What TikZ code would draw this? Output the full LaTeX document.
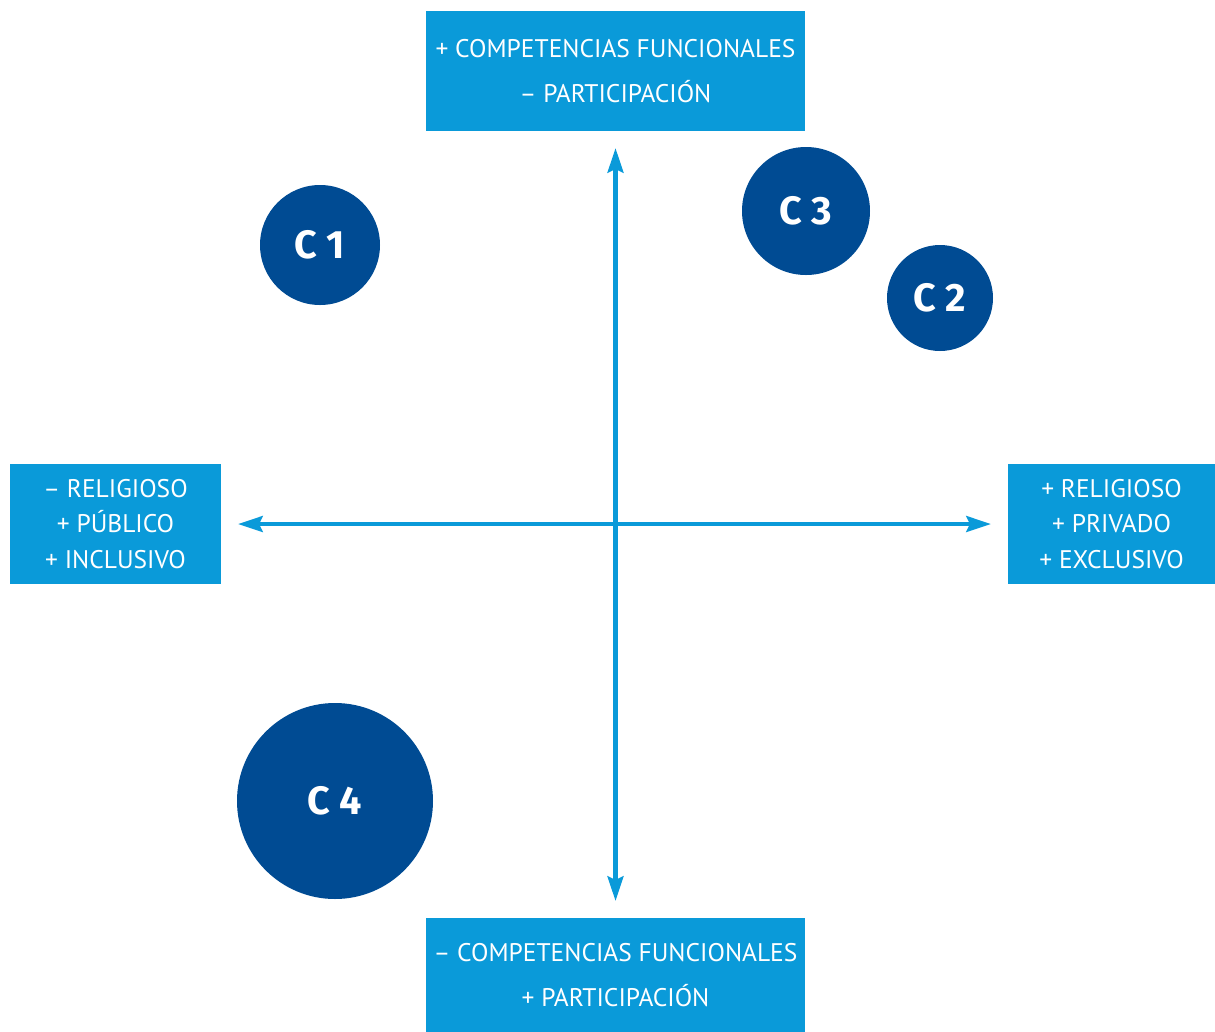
\documentclass[tikz,border=0pt]{standalone}
\usepackage{fontspec}
\setmainfont{PT Sans}
\newfontfamily\circfont{Fira Sans}
\usepackage{tikz}
\usetikzlibrary{arrows.meta,positioning}
\definecolor{axisblue}{HTML}{0A9AD9}
\definecolor{clusterblue}{HTML}{004B93}
\tikzset{
  polebox/.style={fill=axisblue, text=white, align=center, inner sep=0pt,
    font=\fontsize{14.5}{20}\selectfont},
  cluster/.style={circle, fill=clusterblue, text=white, inner sep=0pt,
    font=\circfont\bfseries\fontsize{22.5}{26}\selectfont},
  axisline/.style={draw=axisblue, line width=2.3pt,
    {Stealth[length=14pt,width=9pt,inset=2pt]}-{Stealth[length=14pt,width=9pt,inset=2pt]},
    shorten <=9.5pt, shorten >=9.5pt}
}

\begin{document}
\begin{tikzpicture}[x=0.02cm, y=-0.02cm]
          \useasboundingbox (0, 0) rectangle (1215, 1032);

          % extremos de los ejes
          \node[polebox, minimum width=379*0.02cm, minimum height=120*0.02cm] (top) at (615.5, 71)
            {+ COMPETENCIAS FUNCIONALES\\[6pt] -- PARTICIPACIÓN};
          \node[polebox, minimum width=379*0.02cm, minimum height=114*0.02cm] (bottom) at (615.5, 975)
            {-- COMPETENCIAS FUNCIONALES\\[6pt] + PARTICIPACIÓN};
          \node[polebox, minimum width=211*0.02cm, minimum height=120*0.02cm] (left) at (115.5, 524)
            {-- RELIGIOSO\\ + PÚBLICO\\ + INCLUSIVO};
          \node[polebox, minimum width=207*0.02cm, minimum height=120*0.02cm] (right) at (1111.5, 524)
            {+ RELIGIOSO\\ + PRIVADO\\ + EXCLUSIVO};

          \draw[axisline] (top.south) -- (bottom.north);
          \draw[axisline] (left.east) -- (right.west);

          % grupos
          \node[cluster, minimum size=120*0.02cm] (c1) at (320, 245) {C 1};
          \node[cluster, minimum size=128*0.02cm] (c3) at (806, 211) {C 3};
          \node[cluster, minimum size=106*0.02cm] (c2) at (940, 298) {C 2};
          \node[cluster, minimum size=196*0.02cm] (c4) at (335, 801) {C 4};
        \end{tikzpicture}
\end{document}
